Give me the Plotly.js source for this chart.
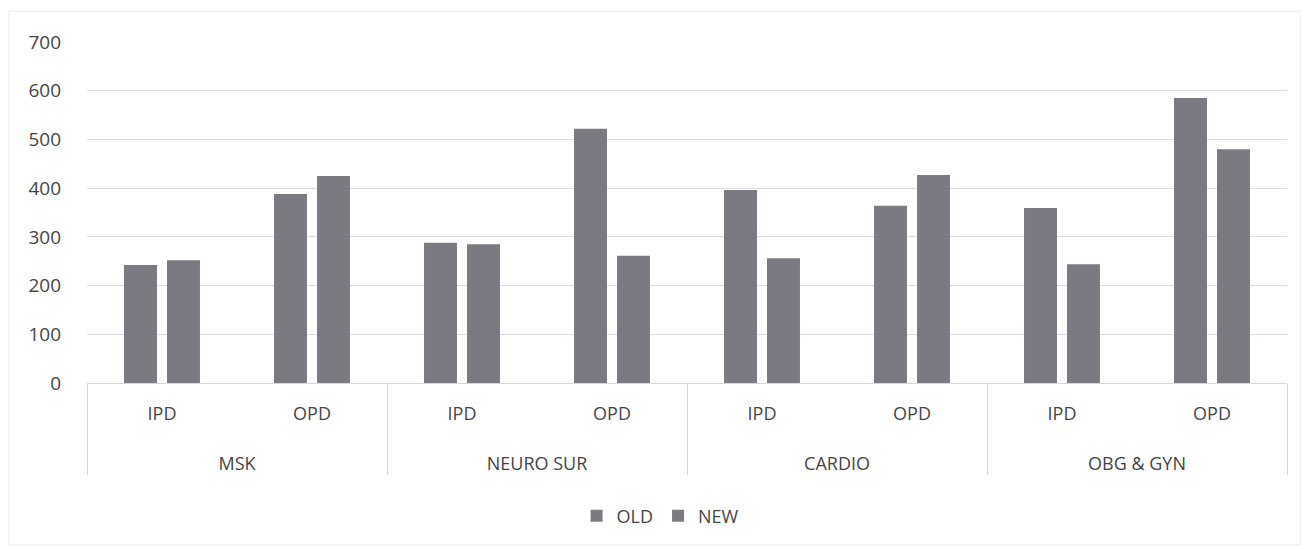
<!DOCTYPE html>
<html>
<head>
<meta charset="utf-8">
<script src="https://cdn.plot.ly/plotly-3.0.1.min.js"></script>
<style>
html,body{margin:0;padding:0;background:#fff;}
#chart{width:1310px;height:549px;}
</style>
</head>
<body>
<div id="chart"></div>
<script>
const departments = ["MSK","MSK","NEURO SUR","NEURO SUR","CARDIO","CARDIO","OBG & GYN","OBG & GYN"];
const visitTypes = ["IPD","OPD","IPD","OPD","IPD","OPD","IPD","OPD"];
const oldValues = [242, 388, 288, 522, 396, 364, 359, 585];
const newValues = [252, 425, 285, 261, 256, 427, 244, 480];

// blank padding under the visit type so the department row sits lower, as in the reference
const visitLabels = visitTypes.map(v => v + "<br> <br><sup> </sup>");

const barColor = "#7b7982";
const traces = [
  {type:"bar", name:"OLD", x:[departments, visitLabels], y:oldValues, marker:{color:barColor}},
  {type:"bar", name:"NEW", x:[departments, visitLabels], y:newValues, marker:{color:barColor}}
];

const layout = {
  width:1310, height:549,
  margin:{l:87, r:23, t:42, b:166},
  paper_bgcolor:"#fff", plot_bgcolor:"#fff",
  font:{family:"Open Sans, Liberation Sans, sans-serif", size:18, color:"#454545"},
  barmode:"group", bargap:0.427, bargroupgap:0.233,
  showlegend:true,
  legend:{orientation:"h", x:0.478, xanchor:"center", y:-0.39, yanchor:"middle", font:{size:18, color:"#454545"}, itemwidth:30, tracegroupgap:0},
  xaxis:{type:"multicategory", showline:true, linecolor:"#d6d6dc", linewidth:1,
         showdividers:true, dividercolor:"#d6d6dc", dividerwidth:1,
         tickfont:{size:18, color:"#454545"}, ticks:"", showgrid:false, ticklabelstandoff:14},
  yaxis:{range:[0,700], dtick:100, tick0:0, showgrid:true, gridcolor:"#dcdce3", gridwidth:1,
         zeroline:false, showline:false, ticks:"", ticklen:0,
         tickfont:{size:19, color:"#454545"}, ticklabelstandoff:25},
  shapes:[{type:"rect", xref:"paper", yref:"paper", x0:-0.065, x1:1.011, y0:-0.475, y1:1.09,
           line:{color:"#ebebef", width:1}, layer:"below"}]
};
Plotly.newPlot("chart", traces, layout, {displayModeBar:false, staticPlot:true});
</script>
</body>
</html>
